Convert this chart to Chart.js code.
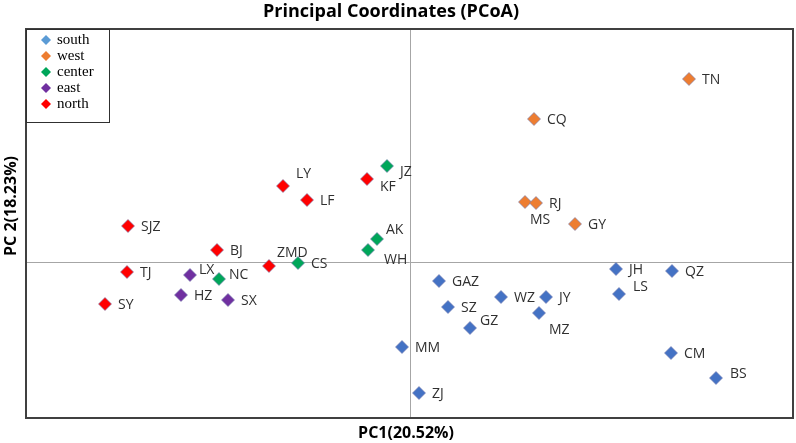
<!DOCTYPE html>
<html>
<head>
<meta charset="utf-8">
<title>Principal Coordinates (PCoA)</title>
<script src="https://cdn.jsdelivr.net/npm/chart.js@4"></script>
<style>
  body { margin: 0; background: #fff; }
</style>
</head>
<body>
<canvas id="chart" width="796" height="443"></canvas>
<script>
'use strict';

//#region Data

const southNames = ['GAZ', 'SZ', 'GZ', 'MM', 'ZJ', 'WZ', 'JY', 'MZ', 'JH', 'LS', 'QZ', 'CM', 'BS'];
const southPC1 = [0.029, 0.038, 0.060, -0.008, 0.009, 0.091, 0.136, 0.129, 0.206, 0.209, 0.262, 0.261, 0.306];
const southPC2 = [-0.019, -0.045, -0.066, -0.085, -0.131, -0.035, -0.035, -0.051, -0.007, -0.032, -0.009, -0.091, -0.116];

const westNames = ['TN', 'CQ', 'MS', 'RJ', 'GY'];
const westPC1 = [0.279, 0.124, 0.115, 0.126, 0.165];
const westPC2 = [0.183, 0.143, 0.060, 0.059, 0.038];

const centerNames = ['JZ', 'AK', 'WH', 'CS', 'NC'];
const centerPC1 = [-0.023, -0.033, -0.042, -0.112, -0.191];
const centerPC2 = [0.096, 0.023, 0.012, -0.001, -0.017];

const eastNames = ['LX', 'HZ', 'SX'];
const eastPC1 = [-0.220, -0.229, -0.182];
const eastPC2 = [-0.013, -0.033, -0.038];

const northNames = ['LY', 'LF', 'KF', 'SJZ', 'BJ', 'ZMD', 'TJ', 'SY'];
const northPC1 = [-0.127, -0.103, -0.043, -0.282, -0.193, -0.141, -0.283, -0.305];
const northPC2 = [0.076, 0.062, 0.083, 0.036, 0.012, -0.004, -0.010, -0.042];

const groupNames = ['south', 'west', 'center', 'east', 'north'];

//#endregion

//#region Styling

const groupColors = ['#4472c4', '#ed7d31', '#00a65a', '#7030a0', '#ff0000'];
const legendColors = ['#5b9bd5', '#ed7d31', '#00a65a', '#7030a0', '#ff0000'];
const labelFont = '14px "Open Sans", sans-serif';

// where a point's label sits relative to the marker, default is to the right
const labelShift = {
  LY: [13, -12], AK: [9, -9], WH: [16, 10], ZMD: [8, -13], LX: [9, -5], NC: [10, -4],
  MS: [5, 18], LS: [14, -7], MZ: [10, 17], GZ: [10, -7], JZ: [13, 6], KF: [13, 8], BS: [14, -4]
};

//#endregion

function makePoints(names, xs, ys) {
  let pts = [];
  for (let i = 0; i < names.length; i++) {
    pts.push({ x: xs[i], y: ys[i], name: names[i] });
  }
  return pts;
}

const allPoints = [
  makePoints(southNames, southPC1, southPC2),
  makePoints(westNames, westPC1, westPC2),
  makePoints(centerNames, centerPC1, centerPC2),
  makePoints(eastNames, eastPC1, eastPC2),
  makePoints(northNames, northPC1, northPC2)
];

let datasets = [];
for (let i = 0; i < groupNames.length; i++) {
  datasets.push({
    label: groupNames[i],
    data: allPoints[i],
    pointStyle: 'rectRot',
    pointRadius: 6.5,
    pointHoverRadius: 6.5,
    backgroundColor: groupColors[i],
    borderColor: 'rgba(120, 125, 175, 0.8)',
    borderWidth: 0.8
  });
}

// frame, labels, legend box and titles
const pcoaDecor = {
  id: 'pcoaDecor',
  afterDatasetsDraw(chart) {
    const ctx = chart.ctx;
    const area = chart.chartArea;

    // point labels
    ctx.save();
    ctx.font = labelFont;
    ctx.fillStyle = '#303030';
    ctx.textAlign = 'left';
    ctx.textBaseline = 'middle';
    chart.data.datasets.forEach((ds, di) => {
      const meta = chart.getDatasetMeta(di);
      meta.data.forEach((pt, j) => {
        const name = ds.data[j].name;
        const shift = labelShift[name] || [13, 1];
        ctx.fillText(name, pt.x + shift[0], pt.y + shift[1]);
      });
    });
    ctx.restore();

    // outer frame
    ctx.save();
    ctx.strokeStyle = '#404040';
    ctx.lineWidth = 2;
    ctx.strokeRect(area.left, area.top, area.right - area.left, area.bottom - area.top);
    ctx.restore();

    // legend
    ctx.save();
    ctx.fillStyle = '#fff';
    ctx.fillRect(area.left, area.top, 83, 93);
    ctx.strokeStyle = '#303030';
    ctx.lineWidth = 1;
    ctx.strokeRect(area.left + 0.5, area.top + 0.5, 83, 93);
    ctx.font = '15px "Liberation Serif", serif';
    ctx.textBaseline = 'middle';
    chart.data.datasets.forEach((ds, i) => {
      const cy = area.top + 11 + i * 16;
      const cx = area.left + 20;
      ctx.fillStyle = legendColors[i];
      ctx.beginPath();
      ctx.moveTo(cx, cy - 5);
      ctx.lineTo(cx + 5, cy);
      ctx.lineTo(cx, cy + 5);
      ctx.lineTo(cx - 5, cy);
      ctx.closePath();
      ctx.fill();
      ctx.fillStyle = '#000';
      ctx.fillText(ds.label, area.left + 31, cy);
    });
    ctx.restore();

    // chart title and axis titles
    ctx.save();
    ctx.fillStyle = '#000';
    ctx.textAlign = 'center';
    ctx.textBaseline = 'middle';
    ctx.font = 'bold 18px "Open Sans", sans-serif';
    ctx.fillText('Principal Coordinates (PCoA)', 391, 12);
    ctx.font = 'bold 16px "Open Sans", sans-serif';
    ctx.fillText('PC1(20.52%)', 406, 433);
    ctx.translate(11, 206);
    ctx.rotate(-Math.PI / 2);
    ctx.fillText('PC 2(18.23%)', 0, 0);
    ctx.restore();
  }
};

function zeroLine(c) {
  return c.tick && c.tick.value === 0 ? '#a6a6a6' : 'rgba(0,0,0,0)';
}

const chartElem = document.getElementById('chart');
const chart = new Chart(chartElem.getContext('2d'), { //eslint-disable-line
  type: 'scatter',
  data: { datasets: datasets },
  options: {
    responsive: false,
    animation: false,
    layout: {
      autoPadding: false,
      padding: { left: 26, right: 3, top: 29, bottom: 25 }
    },
    plugins: {
      legend: { display: false },
      tooltip: { enabled: false },
      title: { display: false }
    },
    scales: {
      x: {
        min: -0.384,
        max: 0.383,
        ticks: { display: false, stepSize: 0.1 },
        grid: { color: zeroLine, drawTicks: false, lineWidth: 1 },
        border: { display: false }
      },
      y: {
        min: -0.156,
        max: 0.233,
        ticks: { display: false, stepSize: 0.1 },
        grid: { color: zeroLine, drawTicks: false, lineWidth: 1 },
        border: { display: false }
      }
    }
  },
  plugins: [pcoaDecor]
});
</script>
</body>
</html>
